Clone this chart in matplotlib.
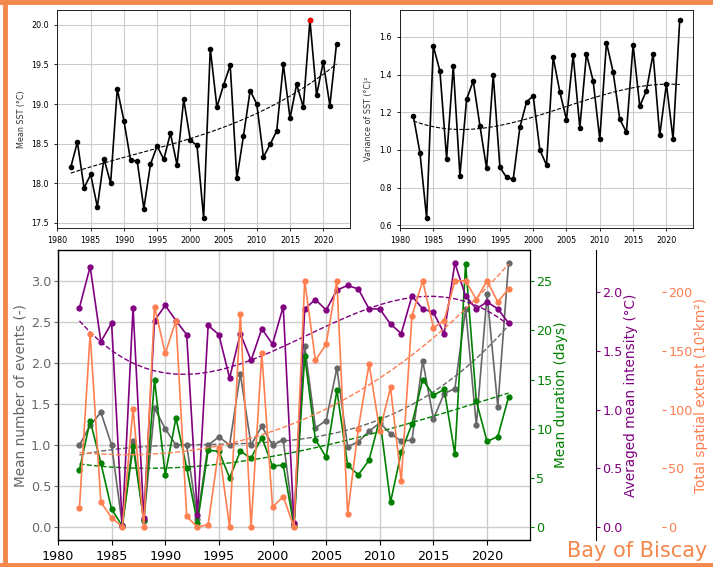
import numpy as np
import matplotlib
matplotlib.use("Agg")
import matplotlib.pyplot as plt
from matplotlib.lines import Line2D

years = np.arange(1982, 2023)

sst_mean = [18.20, 18.52, 17.94, 18.11, 17.70, 18.31, 18.00, 19.19, 18.79, 18.29,
            18.28, 17.68, 18.24, 18.47, 18.30, 18.63, 18.23, 19.06, 18.54, 18.48,
            17.56, 19.70, 18.96, 19.24, 19.49, 18.06, 18.60, 19.17, 19.00, 18.33,
            18.49, 18.66, 19.50, 18.82, 19.25, 18.96, 20.06, 19.11, 19.53, 18.98,
            19.76]
sst_var = [1.182, 0.984, 0.639, 1.552, 1.418, 0.954, 1.444, 0.864, 1.269, 1.366,
           1.129, 0.903, 1.398, 0.908, 0.855, 0.844, 1.120, 1.255, 1.287, 1.000,
           0.920, 1.492, 1.308, 1.161, 1.504, 1.117, 1.510, 1.366, 1.057, 1.570,
           1.414, 1.163, 1.094, 1.558, 1.232, 1.315, 1.510, 1.078, 1.350, 1.058,
           1.689]
max_year = 2018

n_events = [1.00, 1.24, 1.40, 1.00, 0.02, 1.05, 0.07, 1.45, 1.20, 1.00,
            1.00, 0.10, 1.00, 1.10, 1.00, 1.87, 1.00, 1.23, 1.00, 1.06,
            0.03, 2.21, 1.21, 1.30, 1.94, 0.98, 1.04, 1.17, 1.27, 1.14,
            1.05, 1.06, 2.03, 1.32, 1.63, 1.69, 2.66, 1.24, 2.84, 1.47,
            3.22]
duration = [5.8, 10.8, 6.5, 1.8, 0.1, 8.2, 0.7, 15.0, 5.3, 11.1,
            6.0, 0.4, 7.8, 7.7, 5.0, 7.7, 7.0, 9.1, 6.2, 6.3,
            0.1, 17.4, 8.9, 7.1, 13.9, 6.3, 5.3, 6.8, 11.0, 2.5,
            7.6, 10.5, 15.0, 13.4, 14.0, 7.4, 26.8, 12.8, 8.7, 9.2,
            13.2]
intensity = [1.87, 2.22, 1.58, 1.74, 0.01, 1.87, 0.08, 1.76, 1.89, 1.76,
             1.64, 0.10, 1.72, 1.64, 1.27, 1.65, 1.42, 1.69, 1.56, 1.88,
             0.03, 1.86, 1.94, 1.85, 2.02, 2.06, 2.03, 1.86, 1.86, 1.73,
             1.65, 1.97, 1.86, 1.83, 1.65, 2.25, 1.97, 1.86, 1.92, 1.86,
             1.74]
extent = [16, 165, 21, 8, 0, 101, 0, 188, 148, 176,
          9, 0, 2, 67, 0, 182, 0, 148, 17, 26,
          0, 210, 142, 156, 210, 11, 84, 139, 82, 119,
          39, 180, 210, 170, 176, 210, 210, 194, 210, 192,
          203]

C_GRAY = "#666666"
C_GREEN = "green"
C_PURPLE = "purple"
C_ORANGE = "#ff7f50"
C_FRAME = "#f4874b"


def trend(y):
    coef = np.polyfit(years, y, 3)
    return np.polyval(coef, years)


fig = plt.figure(figsize=(7.13, 5.67), dpi=100)

# top panels
for pos, data, label in [([0.0806, 0.598, 0.410, 0.384], sst_mean, "Mean SST (°C)"),
                         ([0.561, 0.598, 0.411, 0.384], sst_var, "Variance of SST (°C)²")]:
    ax = fig.add_axes(pos)
    ax.plot(years, data, color="black", lw=1.2, marker="o", markersize=3, zorder=3)
    ax.plot(years, trend(data), color="black", lw=0.8, ls="--", zorder=2)
    ax.set_xticks(range(1980, 2021, 5))
    ax.tick_params(labelsize=5.8, length=2.5, width=0.6)
    ax.set_ylabel(label, fontsize=5.8, color="#333333")
    ax.grid(color="#cccccc", lw=0.8)
    for s in ax.spines.values():
        s.set_linewidth(0.6)
    if data is sst_mean:
        i = list(years).index(max_year)
        ax.plot(years[i], data[i], "o", color="red", markersize=3, zorder=4)

# main panel
ax = fig.add_axes([0.0813, 0.0476, 0.662, 0.511])
ax2 = ax.twinx()
ax3 = ax.twinx()
ax4 = ax.twinx()

style = dict(lw=1.2, marker="o", markersize=3.5)
ax.plot(years, n_events, color=C_GRAY, **style)
ax.plot(years, trend(n_events), color=C_GRAY, lw=1, ls="--")
ax2.plot(years, duration, color=C_GREEN, **style)
ax2.plot(years, trend(duration), color=C_GREEN, lw=1, ls="--")
ax3.plot(years, intensity, color=C_PURPLE, **style)
ax3.plot(years, trend(intensity), color=C_PURPLE, lw=1, ls="--")
ax4.plot(years, extent, color=C_ORANGE, **style)
ax4.plot(years, trend(extent), color=C_ORANGE, lw=1, ls="--")

ax.set_xlim(1980, 2024)
ax.set_ylim(-0.16, 3.38)
ax2.set_ylim(-0.16 * 25 / 3, 3.38 * 25 / 3)
ax3.set_ylim(-0.111, 2.36)
ax4.set_ylim(-11.1, 236)

FS_T = 9.2
FS_L = 9.8
ax.set_xticks(range(1980, 2021, 5))
ax.grid(color="#cccccc", lw=1)
ax.tick_params(axis="y", colors=C_GRAY, labelsize=FS_T, length=3, pad=2)
ax.tick_params(axis="x", labelsize=FS_T)
ax.set_ylabel("Mean number of events (-)", color=C_GRAY, fontsize=FS_L, labelpad=2)

ax2.set_yticks(range(0, 26, 5))
ax2.tick_params(axis="y", colors=C_GREEN, labelsize=FS_T, length=3, pad=1.5)
ax2.set_ylabel("Mean duration (days)", color=C_GREEN, fontsize=FS_L, labelpad=1)

ax3.spines["right"].set_position(("axes", 1.14))
ax3.set_yticks([0.0, 0.5, 1.0, 1.5, 2.0])
ax3.tick_params(axis="y", colors=C_PURPLE, labelsize=FS_T, length=3, pad=1.5)
ax3.set_ylabel("Averaged mean intensity (°C)", color=C_PURPLE, fontsize=FS_L, labelpad=1)

ax4.spines["right"].set_position(("axes", 1.28))
ax4.spines["right"].set_visible(False)
ax4.set_yticks([0, 50, 100, 150, 200])
ax4.tick_params(axis="y", colors=C_ORANGE, labelsize=FS_T, length=3, pad=1.5)
ax4.set_ylabel("Total spatial extent (10³km²)", color=C_ORANGE, fontsize=FS_L, labelpad=1)

# orange frame and caption
W, H = 713, 567
fig.add_artist(Line2D([4.5 / W, 4.5 / W], [0, 1], color=C_FRAME, lw=3.5))
fig.add_artist(Line2D([0, 1], [1 - 2 / H, 1 - 2 / H], color=C_FRAME, lw=3.5))
fig.add_artist(Line2D([0, 1], [2 / H, 2 / H], color=C_FRAME, lw=3.5))
fig.text(0.992, 0.0176, "Bay of Biscay", color=C_FRAME, fontsize=15, ha="right", va="baseline")

fig.savefig("out.png", dpi=100)
